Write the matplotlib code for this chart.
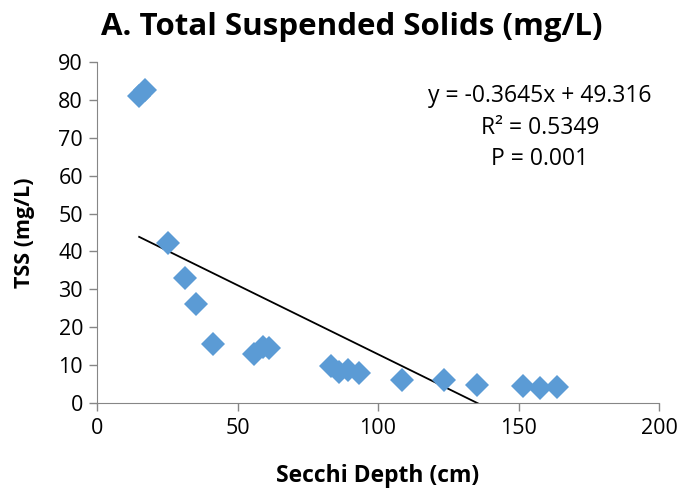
import matplotlib
matplotlib.use("Agg")
import matplotlib.pyplot as plt
import numpy as np

secchi_depth = [15.0, 17.1, 25.1, 31.2, 35.2, 41.2, 56.0, 59.0, 61.2, 83.2, 86.2, 89.4, 93.3,
                108.4, 123.5, 135.4, 151.5, 157.7, 163.6]
tss = [80.9, 82.6, 42.1, 32.9, 26.0, 15.7, 12.9, 14.7, 14.6, 9.8, 8.3, 8.7, 8.0,
       6.2, 6.1, 4.7, 4.5, 3.9, 4.1]
slope = -0.3645
intercept = 49.316
x_ticks = [0, 50, 100, 150, 200]
y_ticks = [0, 10, 20, 30, 40, 50, 60, 70, 80, 90]

plt.rcParams['font.family'] = ['Open Sans', 'DejaVu Sans']

fig = plt.figure(figsize=(6.85, 4.95), dpi=100)
ax = fig.add_axes([97/685, 1-403/495, (659-97)/685, (403-62)/495])

ax.plot(secchi_depth, tss, linestyle='none', marker='D', markersize=12,
        color='#5B9BD5', markeredgewidth=0, zorder=3)

xs = np.array([min(secchi_depth), max(secchi_depth)])
ax.plot(xs, slope*xs + intercept, color='black', linewidth=1.3, zorder=2)

ax.set_xlim(0, 200)
ax.set_ylim(0, 90)
ax.set_xticks(x_ticks)
ax.set_yticks(y_ticks)
ax.tick_params(labelsize=15.5, colors='#868686', labelcolor='black', length=6, width=1)
ax.tick_params(axis='x', pad=5)
ax.tick_params(axis='y', pad=4)
for s in ['top', 'right']:
    ax.spines[s].set_visible(False)
for s in ['left', 'bottom']:
    ax.spines[s].set_color('#868686')
ax.set_xlabel('Secchi Depth (cm)', fontsize=16.5, fontweight='bold', labelpad=18)
ax.set_ylabel('TSS (mg/L)', fontsize=15.5, fontweight='bold', labelpad=17)
fig.suptitle('A. Total Suspended Solids (mg/L)', fontsize=22.5, fontweight='bold',
             x=0.514, y=0.975)

ax.text(0.788, 0.935, 'y = -0.3645x + 49.316\nR² = 0.5349\nP = 0.001',
        transform=ax.transAxes, ha='center', va='top', fontsize=16.5, linespacing=1.42)

fig.savefig('out.png', dpi=100)
